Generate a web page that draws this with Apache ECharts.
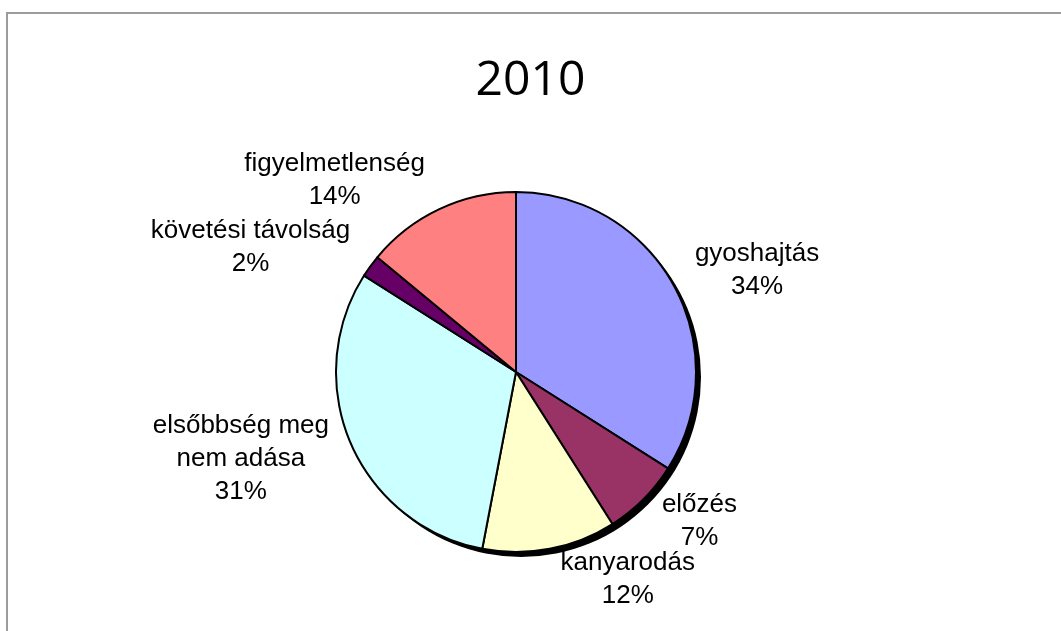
<!DOCTYPE html>
<html>
<head>
<meta charset="utf-8">
<script src="https://cdn.jsdelivr.net/npm/echarts@6/dist/echarts.min.js"></script>
<style>
  html, body { margin: 0; padding: 0; background: #fff; }
  #chart { width: 1061px; height: 631px; }
</style>
</head>
<body>
<div id="chart"></div>
<script>
// data
var categories = ['gyoshajtás', 'előzés', 'kanyarodás', 'elsőbbség meg\nnem adása', 'követési távolság', 'figyelmetlenség']
var shares = [34, 7, 12, 31, 2, 14]
var colors = ['#9999ff', '#993366', '#ffffcc', '#ccffff', '#660066', '#ff8080']

var total = shares.reduce(function (a, b) { return a + b }, 0)

// vertical direction of each slice's middle (used to nudge labels a bit)
function midDirY(i) {
  var before = 0
  for (var k = 0; k < i; k++) before += shares[k]
  var f = (before + shares[i] / 2) / total
  return -Math.cos(2 * Math.PI * f)
}

var chart = echarts.init(document.getElementById('chart'), null, { renderer: 'canvas' })

chart.setOption({
  animation: false,
  title: {
    text: '2010',
    left: 'center',
    top: 52,
    textStyle: { fontFamily: 'Open Sans', fontSize: 48, fontWeight: 'normal', color: '#000' }
  },
  graphic: [
    // outer frame (only top and left edges fall inside the picture)
    {
      type: 'rect',
      z: 0,
      shape: { x: 7, y: 13, width: 1100, height: 700 },
      style: { fill: 'none', stroke: '#9c9c9c', lineWidth: 2 }
    },
    // black drop shadow behind the pie
    {
      type: 'circle',
      z: 0,
      shape: { cx: 521, cy: 377, r: 180 },
      style: { fill: '#000' }
    }
  ],
  series: [
    {
      type: 'pie',
      z: 2,
      center: [516, 372],
      radius: 180,
      startAngle: 90,
      clockwise: true,
      avoidLabelOverlap: false,
      emphasis: { disabled: true },
      itemStyle: { borderColor: '#000', borderWidth: 2 },
      label: {
        show: true,
        position: 'outside',
        formatter: '{b}\n{d}%',
        fontFamily: 'Liberation Sans',
        fontSize: 26,
        lineHeight: 33,
        color: '#000',
        distanceToLabelLine: 5
      },
      labelLine: { show: false, length: 15, length2: 3 },
      labelLayout: function (p) {
        var r = p.labelRect
        var dy = midDirY(p.dataIndex)
        return {
          x: r.x + r.width / 2,
          y: r.y + r.height / 2 + dy * r.height / 4,
          align: 'center',
          verticalAlign: 'middle'
        }
      },
      data: categories.map(function (name, i) {
        return { name: name, value: shares[i], itemStyle: { color: colors[i] } }
      })
    }
  ]
})
</script>
</body>
</html>
